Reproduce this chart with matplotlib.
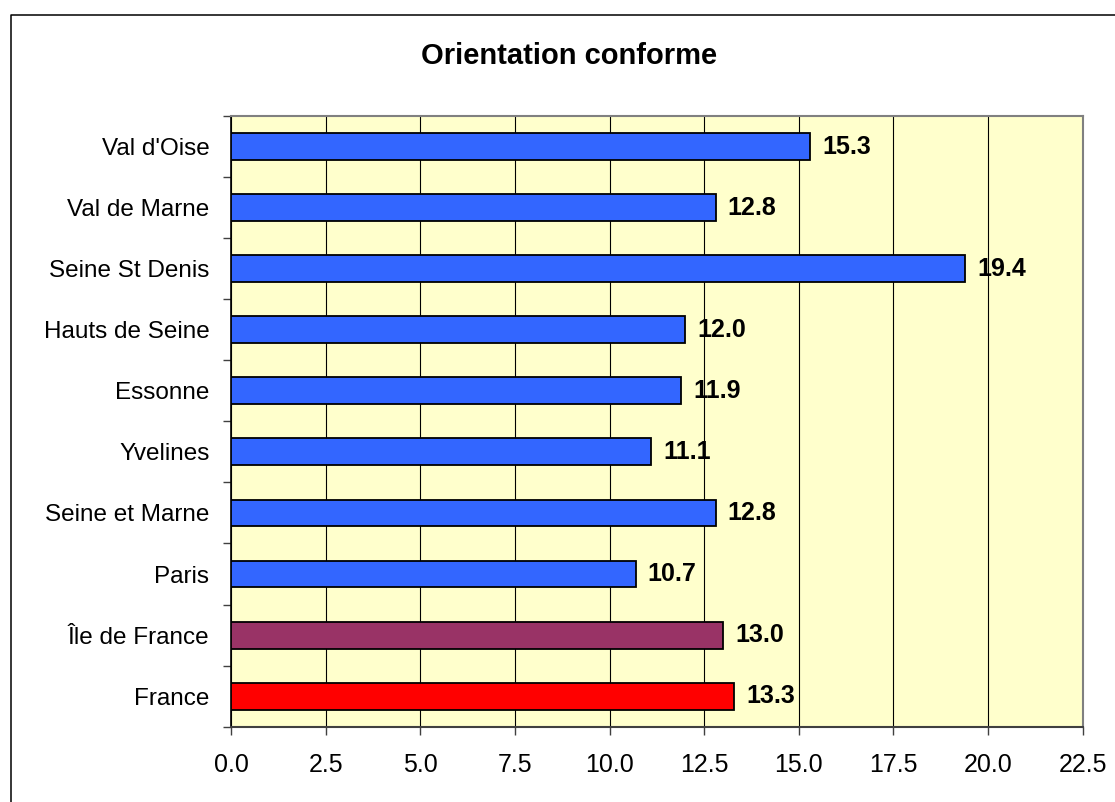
import matplotlib
matplotlib.use("Agg")
import matplotlib.pyplot as plt
from matplotlib.lines import Line2D
import numpy as np

plt.rcParams["font.family"] = ["Liberation Sans", "DejaVu Sans"]

# bottom to top
regions = ["France", "Île de France", "Paris", "Seine et Marne", "Yvelines",
           "Essonne", "Hauts de Seine", "Seine St Denis", "Val de Marne", "Val d'Oise"]
values = [13.3, 13.0, 10.7, 12.8, 11.1, 11.9, 12.0, 19.4, 12.8, 15.3]
bar_colors = ["#FF0000", "#993366"] + ["#3366FF"] * 8
x_ticks = [0.0, 2.5, 5.0, 7.5, 10.0, 12.5, 15.0, 17.5, 20.0, 22.5]

fig = plt.figure(figsize=(11.15, 8.02), dpi=100)
ax = fig.add_axes([231 / 1115, 1 - 726.7 / 802, (1082.7 - 231) / 1115, (726.7 - 116) / 802])
ax.set_facecolor("#FFFFCC")

y = np.arange(len(regions))
bars = ax.barh(y, values, height=0.44, color=bar_colors, edgecolor="black",
               linewidth=1.3, zorder=3)

for b, v in zip(bars, values):
    ax.annotate(f"{v:.1f}", (b.get_width(), b.get_y() + b.get_height() / 2),
                xytext=(8.5, 0), textcoords="offset points", va="center", ha="left",
                fontsize=18, fontweight="bold", zorder=4)

ax.set_xlim(0, 22.5)
ax.set_ylim(-0.5, len(regions) - 0.5)
ax.set_xticks(x_ticks)
ax.set_xticklabels([f"{t:.1f}" for t in x_ticks])
ax.set_yticks(y)
ax.set_yticklabels(regions)
ax.set_yticks(np.arange(-0.5, len(regions)), minor=True)

ax.xaxis.grid(True, color="black", linewidth=0.8, zorder=1)
ax.set_axisbelow(True)

ax.tick_params(axis="x", length=5.8, width=1, color="#404040", pad=13, labelsize=18)
ax.tick_params(axis="y", which="major", length=0, pad=15.5, labelsize=17.5)
ax.tick_params(axis="y", which="minor", length=5.8, width=1, color="#404040")

ax.spines["left"].set_color("black")
ax.spines["bottom"].set_color("#404040")
ax.spines["left"].set_linewidth(1.2)
ax.spines["bottom"].set_linewidth(1.5)
for s in ("top", "right"):
    ax.spines[s].set_color("#808080")
    ax.spines[s].set_linewidth(1.5)

fig.text(569.5 / 1115, 1 - 56 / 802, "Orientation conforme", ha="center", va="center",
         fontsize=21, fontweight="bold")

# outer chart border (left and top visible)
fig.add_artist(Line2D([10.5 / 1115, 10.5 / 1115, 1.0], [0.0, 1 - 15 / 802, 1 - 15 / 802],
                      transform=fig.transFigure, color="black", linewidth=1.1))

fig.savefig("out.png", dpi=100)
